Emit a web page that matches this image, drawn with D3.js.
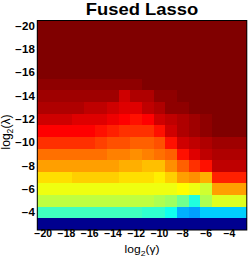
<!DOCTYPE html>
<html><head><meta charset="utf-8">
<script src="https://cdn.jsdelivr.net/npm/d3@7"></script>
<style>html,body{margin:0;padding:0;background:#fff;}svg{display:block;}</style>
</head><body>
<script>
// log2(gamma) columns, log2(lambda) rows
const gammas = [-20,-19,-18,-17,-16,-15,-14,-13,-12,-11,-10,-9,-8,-7,-6,-5,-4,-3];
const lambdas = [-20,-19,-18,-17,-16,-15,-14,-13,-12,-11,-10,-9,-8,-7,-6,-5,-4,-3];
const xTicks = [-20,-18,-16,-14,-12,-10,-8,-6,-4];
const yTicks = [-20,-18,-16,-14,-12,-10,-8,-6,-4];
// colour-map level (1..64, jet) per cell; one row per lambda, one entry per gamma
const levels = [
  [64,64,64,64,64,64,64,64,64,64,64,64,64,64,64,64,64,64],
  [64,64,64,64,64,64,64,64,64,64,64,64,64,64,64,64,64,64],
  [64,64,64,64,64,64,64,64,64,64,64,64,64,64,64,64,64,64],
  [64,64,64,64,64,64,64,64,64,64,64,64,64,64,64,64,64,64],
  [64,64,64,64,64,64,64,64,64,64,64,64,64,64,64,64,64,64],
  [63,63,63,63,63,63,63,63,63,64,64,64,64,64,64,64,64,64],
  [62,62,62,62,62,62,62,59,61,61,63,63,64,64,64,64,64,64],
  [61,61,61,61,60,60,59,58,58,60,61,63,63,64,64,64,64,64],
  [59,59,59,58,58,58,57,56,55,56,59,60,61,62,63,64,64,64],
  [56,56,56,56,56,55,54,53,53,53,55,59,61,62,63,64,64,64],
  [53,53,53,53,53,52,51,51,50,50,51,55,59,60,61,62,62,62],
  [49,49,49,49,49,49,48,48,47,48,49,50,55,58,60,61,61,61],
  [46,46,46,46,46,46,46,45,45,44,44,47,50,53,55,60,60,60],
  [42,42,42,43,43,43,43,42,42,42,41,43,46,47,45,54,54,54],
  [39,39,39,39,39,39,39,39,39,39,39,39,40,39,37,46,46,46],
  [36,36,36,36,36,36,36,36,36,36,35,34,31,26,35,38,38,38],
  [28,28,28,28,28,28,28,28,28,27,27,25,19,18,21,21,21,21],
  [1,1,1,1,1,1,1,1,1,1,1,1,1,1,1,1,1,1]
];
const titleText = "Fused Lasso";

// MATLAB-style jet(64)
function jet(k) {
  let r, g, b;
  b = k <= 8 ? 0.5 + k/16 : k <= 24 ? 1 : k <= 40 ? 1 - (k-24)/16 : 0;
  g = k <= 8 ? 0 : k <= 24 ? (k-8)/16 : k <= 40 ? 1 : k <= 56 ? 1 - (k-40)/16 : 0;
  r = k <= 24 ? 0 : k <= 40 ? (k-24)/16 : k <= 56 ? 1 : 1 - (k-56)/16;
  return d3.rgb(r*255, g*255, b*255).toString();
}

const W = 249, H = 258;
const L = 37.3, R = 246.8, T = 20.5, B = 230;
const SX = 1.15;
const svg = d3.select("body").append("svg").attr("width", W).attr("height", H);

const x = d3.scaleBand().domain(gammas).range([L, R]);
const y = d3.scaleBand().domain(lambdas).range([T, B]);

const cells = [];
levels.forEach((row, i) => row.forEach((v, j) => cells.push({lam: lambdas[i], gam: gammas[j], v})));

svg.append("g").selectAll("rect").data(cells).join("rect")
  .attr("x", d => x(d.gam)).attr("y", d => y(d.lam))
  .attr("width", x.bandwidth() + 0.4).attr("height", y.bandwidth() + 0.4)
  .attr("fill", d => jet(d.v))
  .attr("shape-rendering", "crispEdges");

svg.append("rect").attr("x", L).attr("y", T).attr("width", R - L).attr("height", B - T)
  .attr("fill", "none").attr("stroke", "#000").attr("stroke-width", 1);

const fmt = d3.format("d");
const font = "'Liberation Sans', Arial, Helvetica, sans-serif";

const xa = svg.append("g").attr("transform", `translate(0,${B})`)
  .call(d3.axisBottom(x).tickValues(xTicks).tickSize(0).tickPadding(0).tickFormat(fmt));
xa.select(".domain").remove();
xa.selectAll("text").attr("y", 7.3).attr("dy", 0)
  .attr("font-family", font).attr("font-size", 10).attr("font-weight", "bold").attr("fill", "#000")
  .attr("transform", `scale(1.04,1)`);

const ya = svg.append("g").attr("transform", `translate(${L},0)`)
  .call(d3.axisLeft(y).tickValues(yTicks).tickSize(0).tickPadding(0).tickFormat(fmt));
ya.select(".domain").remove();
ya.selectAll("text").attr("x", -2.2).attr("dy", "0.36em")
  .attr("font-family", font).attr("font-size", 10).attr("font-weight", "bold").attr("fill", "#000")
  .attr("transform", `scale(${SX},1)`);

// title
svg.append("text").attr("transform", `translate(${(L+R)/2},15) scale(${SX},1)`)
  .attr("text-anchor", "middle").attr("font-family", font).attr("font-size", 16)
  .attr("font-weight", "bold").attr("fill", "#000").text(titleText);

// x label log2(γ)
const xl = svg.append("text").attr("transform", `translate(${(L+R)/2},253) scale(${SX},1)`)
  .attr("text-anchor", "middle").attr("font-family", font).attr("font-size", 10.5).attr("fill", "#000");
xl.append("tspan").text("log");
xl.append("tspan").attr("font-size", 7.5).attr("dy", 2.5).text("2");
xl.append("tspan").attr("dy", -2.5).text("(γ)");

// y label log2(λ)
const yl = svg.append("text").attr("transform", `translate(10,132) scale(${SX},1.15) rotate(-90)`)
  .attr("text-anchor", "middle").attr("font-family", font).attr("font-size", 10.5).attr("fill", "#000");
yl.append("tspan").text("log");
yl.append("tspan").attr("font-size", 7.5).attr("dy", 2.5).text("2");
yl.append("tspan").attr("dy", -2.5).text("(λ)");
</script>
</body></html>
